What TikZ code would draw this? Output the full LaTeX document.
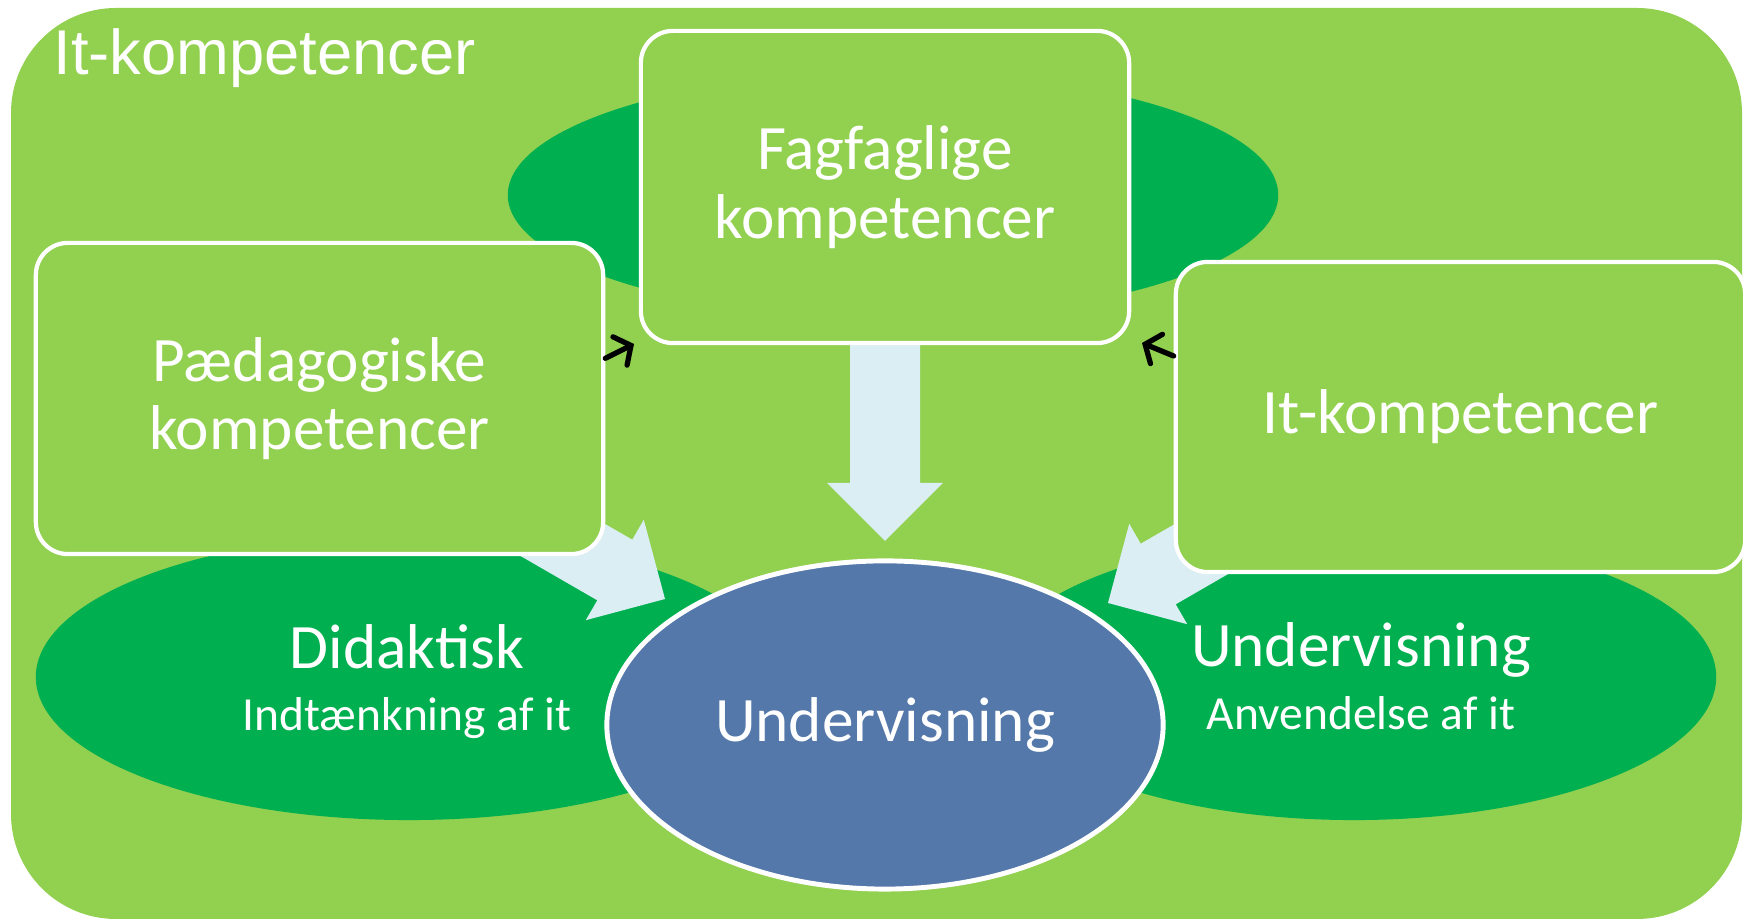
\documentclass[tikz,border=0pt]{standalone}
\usepackage{fontspec}
\setmainfont{Carlito}
\newfontfamily\arialfont{Liberation Sans}
\usepackage{tikz}
\usetikzlibrary{shapes.geometric, arrows.meta}
\usepackage{xcolor}

\definecolor{bggreen}{HTML}{92D050}
\definecolor{darkgreen}{HTML}{00B050}
\definecolor{ellblue}{HTML}{5478AA}
\definecolor{arrowblue}{HTML}{DAEEF3}

\tikzset{
	compbox/.style = {draw=white, line width=1.2pt, fill=bggreen, rounded corners=0.32cm, text=white, align=center, font=\fontsize{18}{19.5}\selectfont, inner sep=0pt},
	oval/.style = {ellipse, fill=darkgreen, inner sep=0pt},
	mainlabel/.style = {text=white, font=\fontsize{18}{20}\selectfont, inner sep=0pt, anchor=base},
	sublabel/.style = {text=white, font=\fontsize{13.5}{16}\selectfont, inner sep=0pt, anchor=base},
	pointer/.style = {->, >={Straight Barb[length=3.5pt, width=9pt, line cap=round]}, line width=1.5pt, line cap=round, black},
}

\newcommand{\blockarrow}[3]{%
	\fill[arrowblue, shift={(#1)}, rotate=#2] (0,0) -- (-58,58) -- (-58,35) -- (-#3,35) -- (-#3,-35) -- (-58,-35) -- (-58,-58) -- cycle;
}

\begin{document}
\begin{tikzpicture}[x=0.01cm, y=0.01cm]
	\useasboundingbox (0,0) rectangle (1748,919);
	\fill[bggreen, rounded corners=1.05cm] (11,0) rectangle (1742,911);
	\node[anchor=base west, inner sep=0pt, text=white, font=\arialfont\fontsize{18}{20}\selectfont] (title) at (53,844) {It-kompetencer};
	
	% ovals behind
	\node[oval, minimum width=7.7cm, minimum height=2.46cm] (fagoval) at (893,724) {};
	\node[oval, minimum width=7.46cm, minimum height=2.86cm] (didakoval) at (409,242) {};
	\node[oval, minimum width=7.24cm, minimum height=2.86cm] (teachoval) at (1354,242) {};
	
	% block arrows
	\coordinate (downtip) at (885,378);
	\coordinate (lefttip) at (665,320);
	\coordinate (righttip) at (1108,316);
	\blockarrow{downtip}{-90}{230}
	\blockarrow{lefttip}{-30}{210}
	\blockarrow{righttip}{210}{210}
	
	% boxes
	\node[compbox, minimum width=4.88cm, minimum height=3.12cm] (fag) at (885,732) {Fagfaglige\\kompetencer};
	\node[compbox, minimum width=5.67cm, minimum height=3.11cm] (paed) at (319.5,520.5) {Pædagogiske\\kompetencer};
	\node[compbox, minimum width=5.69cm, minimum height=3.10cm] (itk) at (1460.5,502) {It-kompetencer};
	
	\node[ellipse, draw=white, line width=1.4pt, fill=ellblue, minimum width=5.56cm, minimum height=3.28cm, inner sep=0pt, text=white, font=\fontsize{18}{20}\selectfont] (teach) at (885,194) {Undervisning};
	
	\node[mainlabel] (didak) at (407,250) {Didaktisk};
	\node[sublabel] (didaksub) at (407,188) {Indtænkning af it};
	\node[mainlabel] (use) at (1361,252) {Undervisning};
	\node[sublabel] (usesub) at (1361,189) {Anvendelse af it};
	
	\coordinate (fagL) at (634,575);
	\coordinate (fagR) at (1142,576);
	\draw[pointer] (paed.8) -- (fagL);
	\draw[pointer] (itk.168.5) -- (fagR);
\end{tikzpicture}
\end{document}
